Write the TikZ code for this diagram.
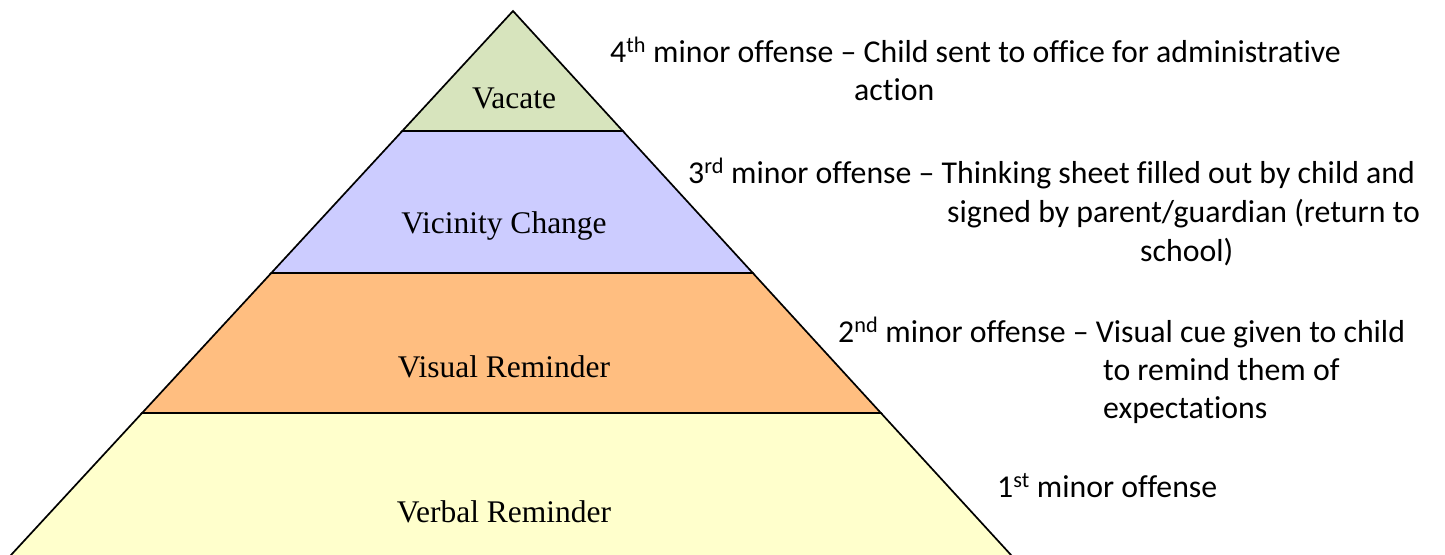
\documentclass[tikz,border=0pt]{standalone}
\usepackage{fontspec}
\setmainfont{Liberation Serif}
\newfontfamily\calib[Ligatures={NoCommon}]{Carlito}
\definecolor{tiergreen}{RGB}{215,228,189}
\definecolor{tierblue}{RGB}{204,204,255}
\definecolor{tierorange}{RGB}{255,190,128}
\definecolor{tieryellow}{RGB}{255,255,204}
\begin{document}
\begin{tikzpicture}[x=1pt,y=-1pt,
  tier/.style={draw=black,line width=1.7pt,line join=miter},
  tierlabel/.style={font=\fontsize{31.5}{38}\selectfont, inner sep=0pt, anchor=base},
  note/.style={font=\calib\fontsize{31.8}{38}\selectfont, inner sep=0pt, anchor=base west}]
\useasboundingbox (0,0) rectangle (1445,554);
\fill[white] (0,0) rectangle (1445,554);
% pyramid tiers
\coordinate (apex) at (513,11);
\coordinate (l1) at (402.3,131); \coordinate (r1) at (622.8,131);
\coordinate (l2) at (271.3,273); \coordinate (r2) at (752.8,273);
\coordinate (l3) at (142.1,413); \coordinate (r3) at (880.9,413);
\coordinate (l4) at (6.4,560);   \coordinate (r4) at (1015.6,560);
\draw[tier, fill=tieryellow] (l3) -- (r3) -- (r4) -- (l4) -- cycle;
\draw[tier, fill=tierorange] (l2) -- (r2) -- (r3) -- (l3) -- cycle;
\draw[tier, fill=tierblue]   (l1) -- (r1) -- (r2) -- (l2) -- cycle;
\draw[tier, fill=tiergreen]  (apex) -- (r1) -- (l1) -- cycle;
% tier labels
\node[tierlabel] (vacate)   at (514,108) {Vacate};
\node[tierlabel] (vicinity) at (504,233) {Vicinity Change};
\node[tierlabel] (visual)   at (504,377) {Visual Reminder};
\node[tierlabel] (verbal)   at (504,522) {Verbal Reminder};
% notes
\node[note] (n4a) at (610,62)  {4\textsuperscript{th} minor offense – Child sent to office for administrative};
\node[note] (n4b) at (854,100) {action};
\node[note] (n3a) at (688,183) {3\textsuperscript{rd} minor offense – Thinking sheet filled out by child and};
\node[note] (n3b) at (947,222) {signed by parent/guardian (return to};
\node[note] (n3c) at (1140,261) {school)};
\node[note] (n2a) at (838,342) {2\textsuperscript{nd} minor offense – Visual cue given to child};
\node[note] (n2b) at (1103,380) {to remind them of};
\node[note] (n2c) at (1103,418) {expectations};
\node[note] (n1a) at (997,497) {1\textsuperscript{st} minor offense};
\end{tikzpicture}
\end{document}
